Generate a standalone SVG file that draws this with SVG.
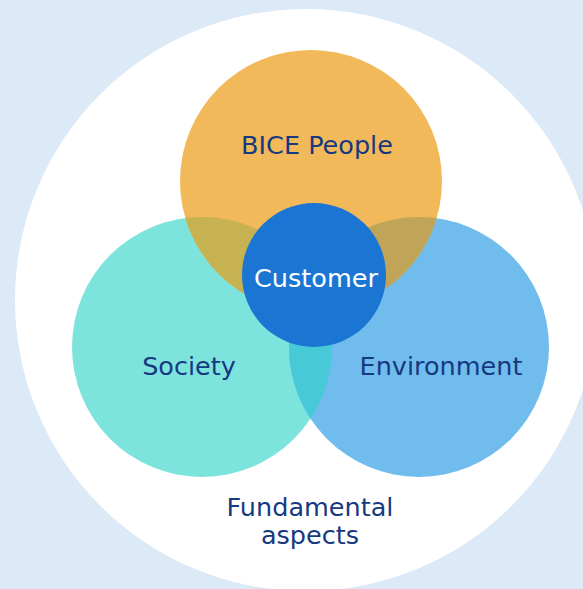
<svg xmlns="http://www.w3.org/2000/svg" width="583" height="589" viewBox="0 0 583 589">
  <style>
    .label { font-family: "DejaVu Sans", "Liberation Sans", sans-serif; font-size: 25.5px; fill: #17397F; text-anchor: middle; }
    .center-label { fill: #FFFFFF; }
  </style>
  <defs>
    <clipPath id="clip-society"><circle cx="202" cy="347" r="130"/></clipPath>
    <clipPath id="clip-environment"><circle cx="419" cy="347" r="130"/></clipPath>
  </defs>

  <!-- backdrop -->
  <rect width="583" height="589" fill="#DCE9F6"/>
  <circle id="outer" cx="306" cy="300" r="291" fill="#FFFFFF"/>

  <g id="society">
    <circle cx="202" cy="347" r="130" fill="#7DE3DD"/>
  </g>
  <g id="environment">
    <circle cx="419" cy="347" r="130" fill="#6FBCED"/>
  </g>
  <g id="bice-people">
    <circle cx="311" cy="181" r="131" fill="#F2B95B"/>
  </g>

  <!-- overlap lenses -->
  <g id="overlaps">
    <circle cx="419" cy="347" r="130" fill="#48C9D8" clip-path="url(#clip-society)"/>
    <circle cx="311" cy="181" r="131" fill="#C6B250" clip-path="url(#clip-society)"/>
    <circle cx="311" cy="181" r="131" fill="#C0A457" clip-path="url(#clip-environment)"/>
  </g>

  <g id="customer">
    <circle cx="314" cy="275" r="72" fill="#1A76D2"/>
  </g>

  <g id="labels">
    <text class="label" x="317" y="154">BICE People</text>
    <text class="label center-label" x="316" y="287">Customer</text>
    <text class="label" x="189" y="375">Society</text>
    <text class="label" x="441" y="375">Environment</text>
    <text class="label" x="310" y="516">Fundamental</text>
    <text class="label" x="310" y="544">aspects</text>
  </g>
</svg>
